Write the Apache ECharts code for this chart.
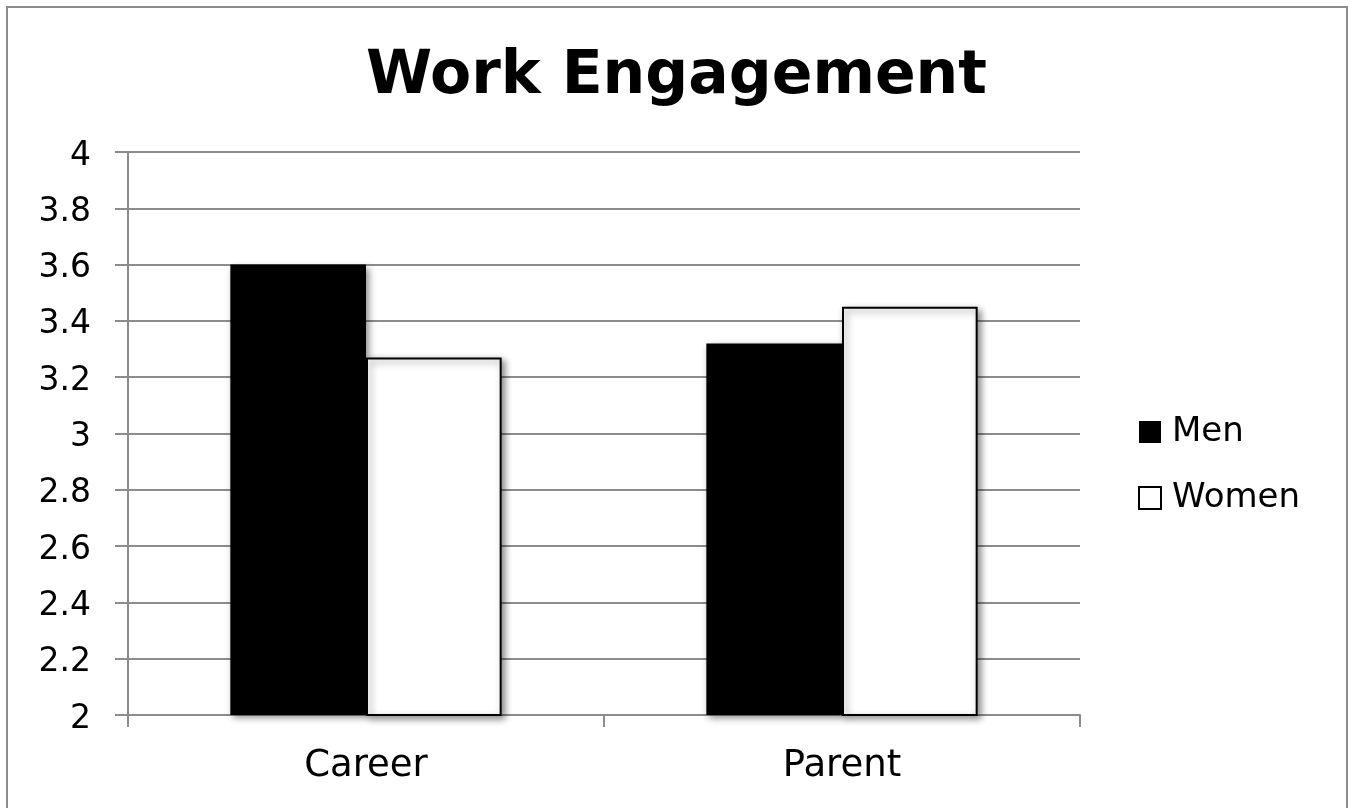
<!DOCTYPE html>
<html>
<head>
<meta charset="utf-8">
<script src="https://cdn.jsdelivr.net/npm/echarts@6/dist/echarts.min.js"></script>
<style>
  html, body { margin: 0; padding: 0; background: #fff; }
  #chart { width: 1353px; height: 808px; }
</style>
</head>
<body>
<div id="chart"></div>
<script>
// Work engagement means by role orientation and gender
const categories = ['Career', 'Parent'];
const menValues = [3.6, 3.32];
const womenValues = [3.27, 3.45];
const yTicks = { min: 2, max: 4, interval: 0.2 };

const FONT = '"DejaVu Sans", Verdana, sans-serif';
const GRID_GRAY = '#8c8c8c';

const shadow = {
  shadowBlur: 7,
  shadowOffsetX: 3,
  shadowOffsetY: 3,
  shadowColor: 'rgba(0,0,0,0.45)'
};

const chart = echarts.init(document.getElementById('chart'), null, { renderer: 'canvas' });
chart.setOption({
  animation: false,
  backgroundColor: '#ffffff',
  textStyle: { fontFamily: FONT },
  title: {
    text: 'Work Engagement',
    left: 'center',
    top: 42,
    textStyle: { fontFamily: FONT, fontWeight: 'bold', fontSize: 60, color: '#000' }
  },
  graphic: [{
    type: 'rect',
    shape: { x: 7, y: 7, width: 1340, height: 820 },
    style: { fill: 'none', stroke: GRID_GRAY, lineWidth: 2 },
    silent: true,
    z: 100
  }],
  legend: {
    orient: 'vertical',
    left: 1133,
    top: 410,
    itemWidth: 22,
    itemHeight: 22,
    itemGap: 32,
    icon: 'rect',
    textStyle: { fontFamily: FONT, fontSize: 34, color: '#000', padding: [0, 0, 0, 6] },
    data: ['Men', 'Women']
  },
  grid: { left: 128, right: 273, top: 152, bottom: 93, containLabel: false },
  xAxis: {
    type: 'category',
    data: categories,
    axisLine: { show: true, lineStyle: { color: GRID_GRAY, width: 2 } },
    axisTick: { show: true, length: 12, lineStyle: { color: GRID_GRAY, width: 2 } },
    axisLabel: { fontFamily: FONT, fontSize: 37, color: '#000', margin: 33 }
  },
  yAxis: {
    type: 'value',
    min: yTicks.min,
    max: yTicks.max,
    interval: yTicks.interval,
    axisLine: { show: true, lineStyle: { color: GRID_GRAY, width: 2 } },
    axisTick: { show: true, length: 13, lineStyle: { color: GRID_GRAY, width: 2 } },
    splitLine: { show: true, lineStyle: { color: GRID_GRAY, width: 2 } },
    axisLabel: {
      color: '#000', margin: 37,
      formatter: v => '{t|' + (Math.round(v * 10) / 10) + '}',
      rich: {
        t: { fontFamily: FONT, fontSize: 33, color: '#000', padding: [8, 0, 0, 0] }
      }
    }
  },
  series: [
    {
      name: 'Men',
      type: 'bar',
      data: menValues,
      barGap: '0%',
      barCategoryGap: '43%',
      itemStyle: Object.assign({ color: '#000000' }, shadow)
    },
    {
      name: 'Women',
      type: 'bar',
      data: womenValues,
      barGap: '0%',
      barCategoryGap: '43%',
      itemStyle: Object.assign({ color: '#ffffff', borderColor: '#000000', borderWidth: 2 }, shadow)
    }
  ]
});
</script>
</body>
</html>
